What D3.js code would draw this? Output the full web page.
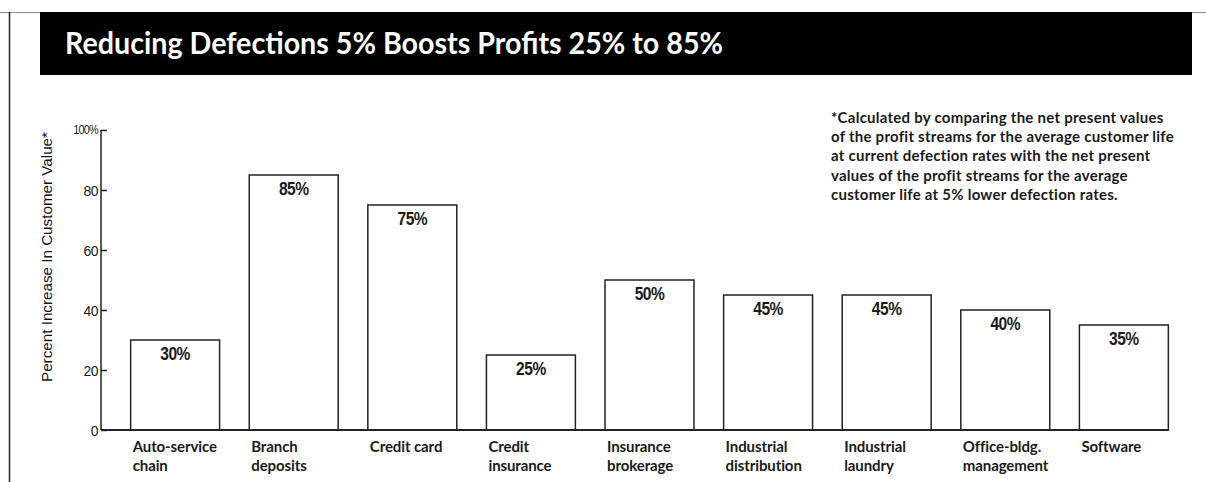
<!DOCTYPE html>
<html>
<head>
<meta charset="utf-8">
<script src="https://cdn.jsdelivr.net/npm/d3@7"></script>
<style>
  html, body { margin: 0; padding: 0; background: #fff; }
  svg { display: block; }
  .geo { font-family: "Lato", "DejaVu Sans", sans-serif; }
  .cond { font-family: "Liberation Sans", Arial, sans-serif; }
</style>
</head>
<body>
<svg id="chart" width="1206" height="482"></svg>
<script>
const title = "Reducing Defections 5% Boosts Profits 25% to 85%";
const categories = [
  ["Auto-service", "chain"],
  ["Branch", "deposits"],
  ["Credit card"],
  ["Credit", "insurance"],
  ["Insurance", "brokerage"],
  ["Industrial", "distribution"],
  ["Industrial", "laundry"],
  ["Office-bldg.", "management"],
  ["Software"]
];
const values = [30, 85, 75, 25, 50, 45, 45, 40, 35];
const valueLabels = ["30%", "85%", "75%", "25%", "50%", "45%", "45%", "40%", "35%"];
const yTicks = [0, 20, 40, 60, 80, 100];
const yTickLabels = ["0", "20", "40", "60", "80", "100%"];
const yTitle = "Percent Increase In Customer Value*";
const noteLines = [
  "*Calculated by comparing the net present values",
  "of the profit streams for the average customer life",
  "at current defection rates with the net present",
  "values of the profit streams for the average",
  "customer life at 5% lower defection rates."
];

const svg = d3.select("#chart");

// frame
svg.append("line").attr("x1", 0).attr("x2", 1206).attr("y1", 12.5).attr("y2", 12.5)
  .attr("stroke", "#888").attr("stroke-width", 1);
svg.append("line").attr("x1", 9.5).attr("x2", 9.5).attr("y1", 12).attr("y2", 482)
  .attr("stroke", "#222").attr("stroke-width", 1.5);

// title bar
svg.append("rect").attr("x", 40).attr("y", 12).attr("width", 1152).attr("height", 63).attr("fill", "#000");
svg.append("text").attr("class", "geo").attr("x", 65).attr("y", 54)
  .attr("fill", "#fff").attr("font-size", 30).attr("font-weight", 700)
  .attr("textLength", 658).attr("lengthAdjust", "spacingAndGlyphs")
  .text(title);

const x0 = 101, x1 = 1198, yBase = 430, yTop = 130;
const x = d3.scaleBand().domain(categories.map((c, i) => i)).range([x0, x1])
  .paddingInner(0.25).paddingOuter(0.25);
const y = d3.scaleLinear().domain([0, 100]).range([yBase, yTop]);

// y axis
const yAxis = d3.axisRight(y).tickValues(yTicks).tickSize(6).tickFormat("");
const gy = svg.append("g").attr("transform", `translate(${x0},0)`).call(yAxis);
gy.select(".domain").attr("stroke", "#222").attr("stroke-width", 1.5).attr("d", `M0,${yTop}V${yBase}`);
gy.selectAll(".tick line").attr("stroke", "#222").attr("stroke-width", 1.5);

svg.append("g").selectAll("text").data(yTicks).join("text")
  .attr("class", "cond")
  .attr("transform", d => `translate(${x0 - 3},${y(d) + (d === 100 ? 4 : 5.5)}) scale(0.9,1)`)
  .attr("text-anchor", "end").attr("font-size", d => d === 100 ? 12 : 15.5)
  .attr("letter-spacing", d => d === 100 ? -0.8 : -0.6)
  .attr("fill", "#1a1a1a")
  .text((d, i) => yTickLabels[i]);

svg.append("text").attr("class", "cond")
  .attr("transform", `translate(52,257) rotate(-90)`)
  .attr("text-anchor", "middle").attr("font-size", 14).attr("fill", "#111")
  .attr("textLength", 250).attr("lengthAdjust", "spacingAndGlyphs")
  .text(yTitle);

// bars
svg.append("g").selectAll("rect").data(values).join("rect")
  .attr("x", (d, i) => x(i)).attr("y", d => y(d))
  .attr("width", x.bandwidth()).attr("height", d => yBase - y(d))
  .attr("fill", "#fff").attr("stroke", "#222").attr("stroke-width", 1.5);

// baseline
svg.append("line").attr("x1", x0).attr("x2", x(categories.length - 1) + x.bandwidth())
  .attr("y1", yBase).attr("y2", yBase).attr("stroke", "#222").attr("stroke-width", 1.8);

// value labels
svg.append("g").selectAll("text").data(values).join("text")
  .attr("class", "cond")
  .attr("transform", (d, i) => `translate(${x(i) + x.bandwidth() / 2},${y(d) + 20}) scale(0.82,1)`)
  .attr("text-anchor", "middle").attr("font-size", 19).attr("font-weight", 700)
  .attr("letter-spacing", -0.6).attr("fill", "#1a1a1a")
  .text((d, i) => valueLabels[i]);

// category labels
const cl = svg.append("g").selectAll("text").data(categories).join("text")
  .attr("class", "geo")
  .attr("x", (d, i) => x(i) + 2).attr("y", 452)
  .attr("font-size", 15).attr("font-weight", 700).attr("fill", "#1a1a1a")
  .attr("letter-spacing", -0.1);
cl.selectAll("tspan").data(d => d).join("tspan")
  .attr("x", function () { return d3.select(this.parentNode).attr("x"); })
  .attr("dy", (d, i) => i === 0 ? 0 : 19)
  .text(d => d);

// note
svg.append("g").selectAll("text").data(noteLines).join("text")
  .attr("class", "geo")
  .attr("x", 831).attr("y", (d, i) => 123 + i * 19.2)
  .attr("font-size", 15).attr("font-weight", 700).attr("fill", "#1a1a1a")
  .attr("letter-spacing", 0.25)
  .text(d => d);
</script>
</body>
</html>
